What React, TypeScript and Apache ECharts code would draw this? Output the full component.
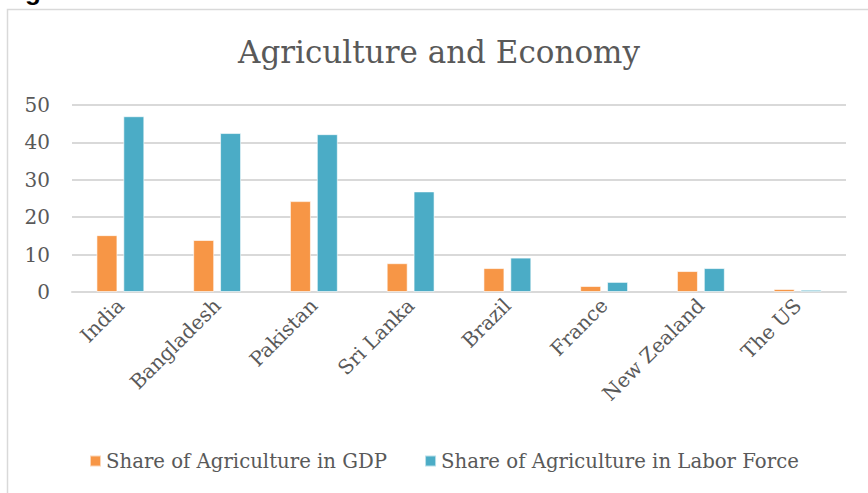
import React, { useEffect, useRef } from "react";
import * as echarts from "echarts";

const categories = ["India", "Bangladesh", "Pakistan", "Sri Lanka", "Brazil", "France", "New Zealand", "The US"];
const gdpShare = [15.2, 13.9, 24.3, 7.7, 6.4, 1.6, 5.6, 0.8];
const laborShare = [47.0, 42.5, 42.2, 26.9, 9.2, 2.7, 6.4, 0.6];
const seriesNames = ["Share of Agriculture in GDP", "Share of Agriculture in Labor Force"];

const FONT = "DejaVu Serif";
const TXT = "#595959";

export default function App() {
  const ref = useRef<HTMLDivElement>(null);
  useEffect(() => {
    if (!ref.current) return;
    const chart = echarts.init(ref.current, null, { renderer: "svg" });
    chart.setOption({
      animation: false,
      backgroundColor: "#ffffff",
      textStyle: { fontFamily: FONT },
      graphic: [
        {
          type: "rect",
          shape: { x: 7.5, y: 9.5, width: 880, height: 500 },
          style: { fill: "none", stroke: "#D9D9D9", lineWidth: 1.5 },
          silent: true,
        },
        {
          type: "text",
          left: 2,
          top: -22,
          style: { text: "Figure 1", font: "bold 26px 'Liberation Sans'", fill: "#000" },
        },
      ],
      title: {
        text: "Agriculture and Economy",
        left: 434,
        textAlign: "center",
        top: 31,
        textStyle: { fontFamily: FONT, fontSize: 31, fontWeight: "normal", color: TXT },
      },
      legend: {
        bottom: 22,
        left: 89,
        padding: 0,
        itemWidth: 11,
        itemHeight: 11,
        itemGap: 37,
        icon: "rect",
        textStyle: { fontFamily: FONT, fontSize: 19.7, color: TXT },
        data: seriesNames,
      },
      grid: { left: 72, right: 22, top: 105, bottom: 201, containLabel: false },
      xAxis: {
        type: "category",
        data: categories,
        axisLine: { show: true, lineStyle: { color: "#D9D9D9", width: 2 } },
        axisTick: { show: false },
        axisLabel: { rotate: 45, fontFamily: FONT, fontSize: 20, color: TXT, margin: 10, interval: 0 },
      },
      yAxis: {
        type: "value",
        min: 0,
        max: 50,
        interval: 10,
        axisLine: { show: false },
        axisTick: { show: false },
        splitLine: { lineStyle: { color: "#D9D9D9", width: 2 } },
        axisLabel: { fontFamily: FONT, fontSize: 20, color: TXT, margin: 22 },
      },
      series: [
        {
          name: seriesNames[0],
          type: "bar",
          data: gdpShare,
          barWidth: 21,
          barGap: "28%",
          itemStyle: { color: "#F79646", borderColor: "rgba(255,255,255,0.6)", borderWidth: 1 },
        },
        {
          name: seriesNames[1],
          type: "bar",
          data: laborShare,
          barWidth: 21,
          barGap: "28%",
          itemStyle: { color: "#4BACC6", borderColor: "rgba(255,255,255,0.6)", borderWidth: 1 },
        },
      ],
    });
    return () => chart.dispose();
  }, []);
  return (
    <div
      ref={ref}
      style={{ position: "fixed", left: 0, top: 0, width: 868, height: 493 }}
    />
  );
}
